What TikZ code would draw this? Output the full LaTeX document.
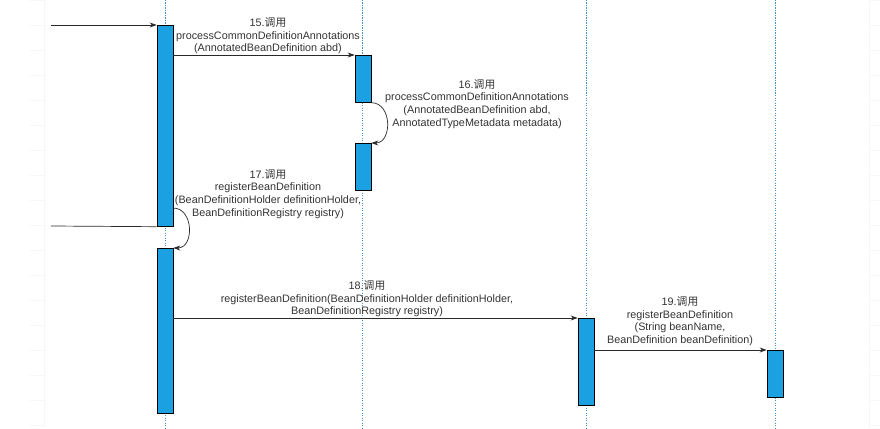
\documentclass[tikz,border=0pt]{standalone}
\usepackage{fontspec}
\setmainfont{Liberation Sans}
\newfontfamily\cjk{Noto Sans CJK SC}
\usepackage{xcolor}
\usetikzlibrary{arrows.meta,positioning}

\definecolor{actblue}{HTML}{1BA1E2}
\definecolor{lifeblue}{HTML}{4A90C8}
\definecolor{txtgray}{HTML}{333333}

\tikzset{
  act/.style={draw=black, line width=0.7pt, fill=actblue, minimum width=16pt, inner sep=0pt, anchor=north},
  lifeline/.style={lifeblue, line width=0.7pt, dash pattern=on 1.2pt off 1.3pt},
  msg/.style={txtgray!80!black, line width=0.7pt, -{Stealth[length=7pt,width=5pt]}},
  plainmsg/.style={txtgray!80!black, line width=0.7pt},
  lbl/.style={text=txtgray, align=center, inner sep=0pt, font=\fontsize{10.8}{12.6}\selectfont},
  faint/.style={black!3, line width=0.6pt}
}

\begin{document}
\begin{tikzpicture}[x=1pt,y=-1pt]
\useasboundingbox (0,0) rectangle (880,428);
% faint canvas grid in the margins
\draw[faint] (44,0) -- (44,428);
\draw[faint] (869,0) -- (869,428);
\foreach \y in {0,25,...,425}{
  \draw[faint] (30,\y) -- (44,\y);
  \draw[faint] (869,\y) -- (880,\y);
}
% lifelines
\foreach \x in {165,362,586,775}{
  \draw[lifeline] (\x,0) -- (\x,428);
}
% activation boxes
\node[act, minimum height=201pt] (a1) at (165,25) {};
\node[act, minimum height=165pt] (a2) at (165,248) {};
\node[act, minimum height=47pt] (b1) at (363,55) {};
\node[act, minimum height=47pt] (b2) at (363,143) {};
\node[act, minimum height=87pt] (c) at (586,318) {};
\node[act, minimum height=47pt] (d) at (775,350) {};
% outside caller
\coordinate (caller) at (51,25);
\coordinate (back) at (51,226);
\draw[msg] (caller) -- (a1.north west);
\draw[plainmsg] (back) -- (a1.south west);
% messages
\draw[msg] (a1.east |- b1.north west) -- (b1.north west);
\draw[msg] (b1.south east) .. controls +(21,0) and +(21,0) .. (b2.north east);
\coordinate (selfcall) at (173,208);
\draw[msg] (selfcall) .. controls +(21,0) and +(21,0) .. (a2.north east);
\draw[msg] (a2.east |- c.north west) -- (c.north west);
\draw[msg] (c.east |- d.north west) -- (d.north west);
% labels
\node[lbl] (l15) at (268,36) {15.{\cjk 调用}\\processCommonDefinitionAnnotations\\(AnnotatedBeanDefinition abd)};
\node[lbl] (l16) at (477,104) {16.{\cjk 调用}\\processCommonDefinitionAnnotations\\(AnnotatedBeanDefinition abd,\\AnnotatedTypeMetadata metadata)};
\node[lbl] (l17) at (268,194) {17.{\cjk 调用}\\registerBeanDefinition\\(BeanDefinitionHolder definitionHolder,\\BeanDefinitionRegistry registry)};
\node[lbl] (l18) at (367,299) {18.{\cjk 调用}\\registerBeanDefinition(BeanDefinitionHolder definitionHolder,\\BeanDefinitionRegistry registry)};
\node[lbl] (l19) at (680,321) {19.{\cjk 调用}\\registerBeanDefinition\\(String beanName,\\BeanDefinition beanDefinition)};
\end{tikzpicture}
\end{document}
